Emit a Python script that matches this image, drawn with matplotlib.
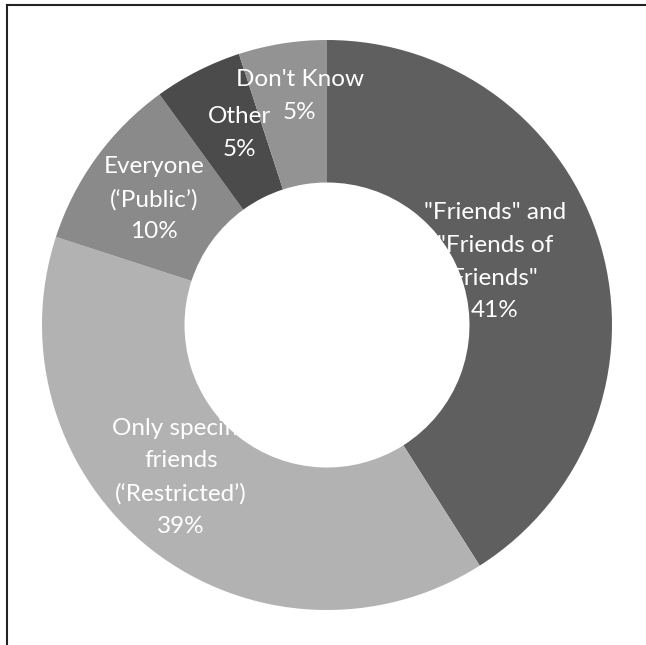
import numpy as np
import matplotlib.pyplot as plt
from matplotlib.lines import Line2D

# slices, clockwise from 12 o'clock
labels = ['"Friends" and\n"Friends of\nFriends"', "Only specific\nfriends\n(\u2018Restricted\u2019)",
          "Everyone\n(\u2018Public\u2019)", "Other", "Don't Know"]
shares = [41, 39, 10, 5, 5]
colors = ["#5f5f5f", "#b2b2b2", "#8a8a8a", "#4b4b4b", "#939393"]

# label placement: fraction of outer radius, and nudge off the slice middle (degrees)
label_r = [0.63, 0.74, 0.75, 0.74, 0.81]
label_turn = [4.4, -6.0, 0.0, -2.6, -2.2]
line_step = 23.5  # points between label lines

plt.rcParams["font.family"] = ["Lato", "DejaVu Sans"]

fig = plt.figure(figsize=(6.46, 6.45), dpi=100)
ax = fig.add_axes([0, 0, 1, 1])

wedges, _ = ax.pie(shares, colors=colors, startangle=90, counterclock=False, radius=1.0,
                   wedgeprops=dict(width=0.5, linewidth=0))

for w, lab, val, r, turn in zip(wedges, labels, shares, label_r, label_turn):
    mid = np.deg2rad((w.theta1 + w.theta2) / 2 + turn)
    lines = f"{lab}\n{val}%".split("\n")
    n = len(lines)
    # one text per line, stacked around the label centre
    for i, line in enumerate(lines):
        dy = ((n - 1) / 2 - i) * line_step
        ax.annotate(line, xy=(r * np.cos(mid), r * np.sin(mid)), xytext=(0, dy),
                    textcoords="offset points", ha="center", va="center",
                    color="white", fontsize=17.5)

ax.set_xlim(-327 / 285, (646 - 327) / 285)
ax.set_ylim(-(645 - 325) / 285, 325 / 285)
ax.set_aspect("auto")
ax.axis("off")

# frame on the top and left edges
fig.add_artist(Line2D([7 / 646, 7 / 646], [0, 1 - 5 / 645], transform=fig.transFigure, color="#222222", lw=1.5))
fig.add_artist(Line2D([7 / 646, 1], [1 - 5 / 645, 1 - 5 / 645], transform=fig.transFigure, color="#222222", lw=1.5))

fig.savefig("out.png", dpi=100)
